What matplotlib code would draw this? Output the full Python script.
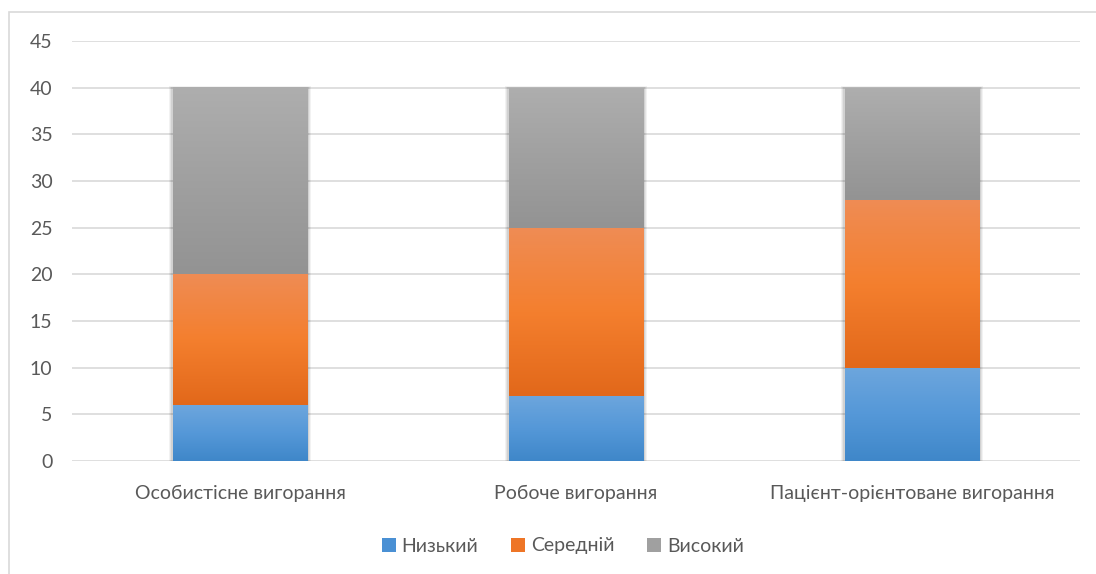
import matplotlib
matplotlib.use("Agg")
import matplotlib.pyplot as plt
import numpy as np
from matplotlib.colors import LinearSegmentedColormap
from matplotlib.patches import Rectangle, Patch

categories = ["Особистісне вигорання", "Робоче вигорання", "Пацієнт-орієнтоване вигорання"]
series_names = ["Низький", "Середній", "Високий"]
low = [6, 7, 10]
mid = [14, 18, 18]
high = [20, 15, 12]
yticks = [0, 5, 10, 15, 20, 25, 30, 35, 40, 45]

grad = {
    "Низький": ["#3f87c9", "#5598d8", "#6da6dd"],
    "Середній": ["#e2681a", "#f47f2e", "#ef8c54"],
    "Високий": ["#939393", "#a0a0a0", "#aeaeae"],
}
legend_colors = ["#4a90d4", "#ee7526", "#a0a0a0"]

plt.rcParams['font.family'] = ['Lato', 'DejaVu Sans']
text_color = "#595959"
fs = 14

fig = plt.figure(figsize=(10.96, 5.74), dpi=100)
# outer chart border
fig.add_artist(Rectangle((9/1096, -0.1), 1.2, (1 - 12/574) + 0.1, transform=fig.transFigure,
                         fill=False, edgecolor="#d9d9d9", linewidth=1.2))

ax = fig.add_axes([72/1096, 1 - 461/574, (1080 - 72)/1096, (461 - 41)/574])
ax.set_xlim(-0.5, len(categories) - 0.5)
ax.set_ylim(0, 45)
ax.set_yticks(yticks)
ax.set_yticklabels([str(v) for v in yticks])
for s in ax.spines.values():
    s.set_visible(False)
ax.tick_params(axis='both', length=0, colors=text_color, labelsize=fs)
ax.tick_params(axis='y', pad=14)
ax.tick_params(axis='x', pad=17)
ax.set_xticks(range(len(categories)))
ax.set_xticklabels(categories)
for v in yticks:
    ax.axhline(v, color="#d9d9d9", linewidth=1.2, zorder=0)

w = 0.40
x = np.arange(len(categories))
bottoms = np.zeros(len(categories))
# soft shadows
tot = np.array(low) + np.array(mid) + np.array(high)
for i in range(len(categories)):
    for k, a in zip([0.035, 0.025, 0.015], [0.05, 0.06, 0.08]):
        ax.add_patch(Rectangle((x[i] - w/2 - k*0.35, -0.2), w + 2*k*0.35, tot[i] + 0.2 + k*4,
                               facecolor="black", alpha=a, edgecolor="none", zorder=1))

for name, vals in zip(series_names, [low, mid, high]):
    cmap = LinearSegmentedColormap.from_list(name, grad[name])
    g = np.linspace(0, 1, 256).reshape(-1, 1)
    for i, v in enumerate(vals):
        ax.imshow(g, cmap=cmap, origin="lower", aspect="auto",
                  extent=[x[i] - w/2, x[i] + w/2, bottoms[i], bottoms[i] + v],
                  zorder=2, interpolation="bilinear")
    bottoms += np.array(vals)
ax.set_xlim(-0.5, len(categories) - 0.5)
ax.set_ylim(0, 45)

handles = [Patch(facecolor=c, edgecolor="none") for c in legend_colors]
fig.legend(handles, series_names, loc="center", bbox_to_anchor=(563/1096, 1 - 546/574),
           ncol=3, frameon=False, fontsize=fs, labelcolor=text_color,
           handlelength=0.7, handleheight=0.7, handletextpad=0.3, columnspacing=1.7)

fig.savefig("out.png", dpi=100)
